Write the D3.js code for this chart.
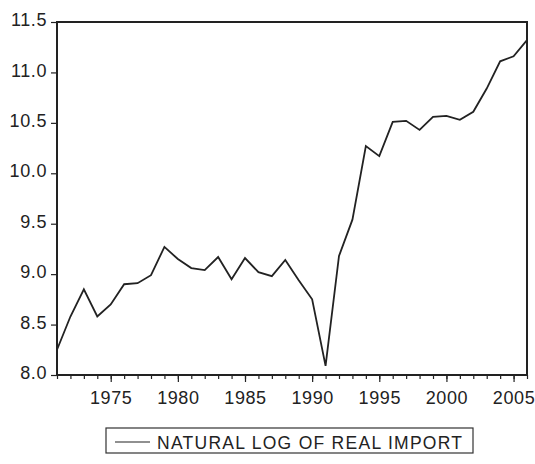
<!DOCTYPE html>
<html>
<head>
<meta charset="utf-8">
<script src="https://cdn.jsdelivr.net/npm/d3@7"></script>
<style>
  html, body { margin: 0; padding: 0; background: #fff; }
  svg { display: block; }
  text { font-family: "Liberation Sans", Arial, sans-serif; fill: #222; }
</style>
</head>
<body>
<svg id="chart" width="535" height="464"></svg>
<script>
const years = [1971,1972,1973,1974,1975,1976,1977,1978,1979,1980,
               1981,1982,1983,1984,1985,1986,1987,1988,1989,1990,
               1991,1992,1993,1994,1995,1996,1997,1998,1999,2000,
               2001,2002,2003,2004,2005,2006];
const lnImport = [8.25,8.58,8.85,8.58,8.70,8.90,8.91,8.99,9.27,9.15,
                  9.06,9.04,9.17,8.95,9.16,9.02,8.98,9.14,8.94,8.75,
                  8.09,9.18,9.54,10.27,10.17,10.51,10.52,10.43,10.56,10.57,
                  10.53,10.61,10.84,11.11,11.16,11.32];
const yTicks = [8.0,8.5,9.0,9.5,10.0,10.5,11.0,11.5];
const xMajorTicks = [1975,1980,1985,1990,1995,2000,2005];
const seriesLabel = "NATURAL LOG OF REAL IMPORT";

const svg = d3.select("#chart");
const L = 57, R = 527, T = 22, B = 375;

const x = d3.scaleLinear().domain([1971, 2006]).range([L, R]);
const y = d3.scaleLinear().domain([8.0, 11.5]).range([B, T]);

// Y axis
const yAxis = d3.axisLeft(y).tickValues(yTicks).tickFormat(d3.format(".1f")).tickSize(6).tickPadding(4);
const gy = svg.append("g").attr("transform", `translate(${L},0)`).call(yAxis);
gy.select(".domain").remove();
gy.selectAll(".tick line").attr("stroke", "#222").attr("stroke-width", 1.2);
gy.selectAll(".tick text")
  .attr("font-size", 18).attr("letter-spacing", 0.6)
  .attr("dy", "0.2em").attr("fill", "#222");

// X axis minor ticks (every year)
const xMinor = d3.axisBottom(x).tickValues(years).tickSize(4).tickFormat("");
const gxm = svg.append("g").attr("transform", `translate(0,${B})`).call(xMinor);
gxm.select(".domain").remove();
gxm.selectAll(".tick line").attr("stroke", "#222").attr("stroke-width", 1.2);

// X axis major ticks with labels
const xAxis = d3.axisBottom(x).tickValues(xMajorTicks).tickFormat(d3.format("d")).tickSize(7).tickPadding(9);
const gx = svg.append("g").attr("transform", `translate(0,${B})`).call(xAxis);
gx.select(".domain").remove();
gx.selectAll(".tick line").attr("stroke", "#222").attr("stroke-width", 1.2);
gx.selectAll(".tick text").attr("font-size", 18).attr("letter-spacing", 0.6).attr("fill", "#222");

// Frame
svg.append("rect")
  .attr("x", L).attr("y", T).attr("width", R - L).attr("height", B - T)
  .attr("fill", "none").attr("stroke", "#222").attr("stroke-width", 2);

// Line
const line = d3.line().x((d, i) => x(years[i])).y(d => y(d));
svg.append("path")
  .datum(lnImport)
  .attr("d", line)
  .attr("fill", "none")
  .attr("stroke", "#222")
  .attr("stroke-width", 1.8)
  .attr("stroke-linejoin", "miter");

// Legend
const lg = svg.append("g");
lg.append("rect").attr("x", 106).attr("y", 428).attr("width", 367).attr("height", 25)
  .attr("fill", "none").attr("stroke", "#333").attr("stroke-width", 1.2);
lg.append("line").attr("x1", 115).attr("x2", 150).attr("y1", 442).attr("y2", 442)
  .attr("stroke", "#222").attr("stroke-width", 1.2);
lg.append("text").attr("x", 157).attr("y", 448.5)
  .attr("font-size", 17.5).attr("textLength", 305).attr("lengthAdjust", "spacing")
  .text(seriesLabel);
</script>
</body>
</html>
